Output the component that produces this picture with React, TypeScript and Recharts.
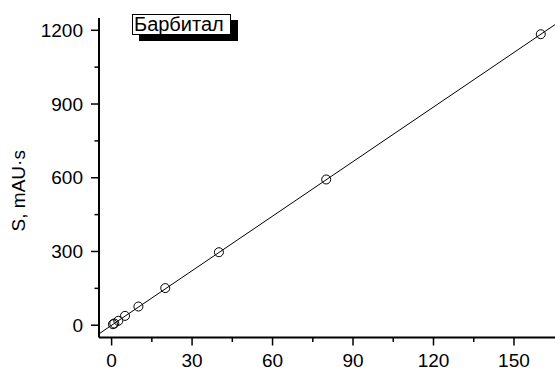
import React from 'react';
import { ComposedChart, Scatter, XAxis, YAxis } from 'recharts';

const concentrations = [0.5, 1, 2.5, 5, 10, 20, 40, 80, 160];
const areas = [4, 7, 18, 38, 76, 151, 297, 593, 1184];
const fitX = [-4.7, 165.3];
const fitY = [-35, 1223];
const xMajorTicks = [0, 30, 60, 90, 120, 150];
const xTicks = [0, 15, 30, 45, 60, 75, 90, 105, 120, 135, 150];
const yMajorTicks = [0, 300, 600, 900, 1200];
const yTicks = [0, 150, 300, 450, 600, 750, 900, 1050, 1200];
const seriesName = 'Барбитал';
const yLabel = 'S, mAU·s';

const points = concentrations.map((c, i) => ({ x: c, y: areas[i] }));
const fit = fitX.map((x, i) => ({ x, y: fitY[i] }));

const FONT = '"Liberation Sans", Arial, sans-serif';

const XTick = (props: any) => {
  const { x, y, payload } = props;
  const major = xMajorTicks.includes(payload.value);
  return (
    <g>
      <line x1={x} y1={y} x2={x} y2={y + (major ? 8 : 4.5)} stroke="#000" strokeWidth={1.5} />
      {major && (
        <text x={x} y={y + 29.5} textAnchor="middle" fontSize={19} fontFamily={FONT} fill="#000">
          {payload.value}
        </text>
      )}
    </g>
  );
};

const YTick = (props: any) => {
  const { x, y, payload } = props;
  const major = yMajorTicks.includes(payload.value);
  return (
    <g>
      <line x1={x - (major ? 8 : 4.5)} y1={y} x2={x} y2={y} stroke="#000" strokeWidth={1.5} />
      {major && (
        <text x={x - 16} y={y + 6.5} textAnchor="end" fontSize={19} fontFamily={FONT} fill="#000">
          {payload.value}
        </text>
      )}
    </g>
  );
};

const Circle = (props: any) => {
  const { cx, cy } = props;
  return <circle cx={cx} cy={cy} r={4.5} fill="none" stroke="#000" strokeWidth={1} />;
};

const NoShape = () => <g />;

const YLabel = (props: any) => {
  const { viewBox } = props;
  const cx = viewBox.x + 18;
  const cy = viewBox.y + viewBox.height / 2 + 13;
  return (
    <text
      x={cx}
      y={cy}
      transform={`rotate(-90, ${cx}, ${cy})`}
      textAnchor="middle"
      dominantBaseline="central"
      fontSize={19}
      fontFamily={FONT}
      fill="#000"
    >
      {yLabel}
    </text>
  );
};

export default function App() {
  return (
    <div style={{ position: 'absolute', left: 0, top: 0, width: 555, height: 370, overflow: 'hidden', background: '#fff' }}>
      <ComposedChart width={555} height={370} margin={{ top: 18, right: 0, bottom: 0, left: 0 }}>
        <XAxis
          type="number"
          dataKey="x"
          domain={[-4.7, 165.3]}
          ticks={xTicks}
          interval={0}
          tickSize={0}
          tickMargin={0}
          tickLine={false}
          tick={<XTick />}
          axisLine={{ stroke: '#000', strokeWidth: 2 }}
          height={32.5}
          allowDataOverflow
        />
        <YAxis
          type="number"
          dataKey="y"
          domain={[-50, 1250]}
          ticks={yTicks}
          interval={0}
          tickSize={0}
          tickMargin={0}
          tickLine={false}
          tick={<YTick />}
          axisLine={{ stroke: '#000', strokeWidth: 2 }}
          width={99}
          allowDataOverflow
          label={<YLabel />}
        />
        <Scatter
          data={fit}
          line={{ stroke: '#000', strokeWidth: 1 }}
          shape={<NoShape />}
          isAnimationActive={false}
        />
        <Scatter data={points} shape={<Circle />} isAnimationActive={false} />
      </ComposedChart>
      <div
        style={{
          position: 'absolute',
          left: 132,
          top: 14,
          width: 96,
          height: 19,
          border: '1px solid #000',
          boxShadow: '7px 6px 0 #000',
          background: '#fff',
          fontFamily: FONT,
          fontSize: 20,
          lineHeight: '19px',
          paddingLeft: 1,
          boxSizing: 'content-box',
          whiteSpace: 'nowrap',
          overflow: 'hidden',
          display: 'flex',
          alignItems: 'center',
        }}
      >
        {seriesName}
      </div>
    </div>
  );
}
